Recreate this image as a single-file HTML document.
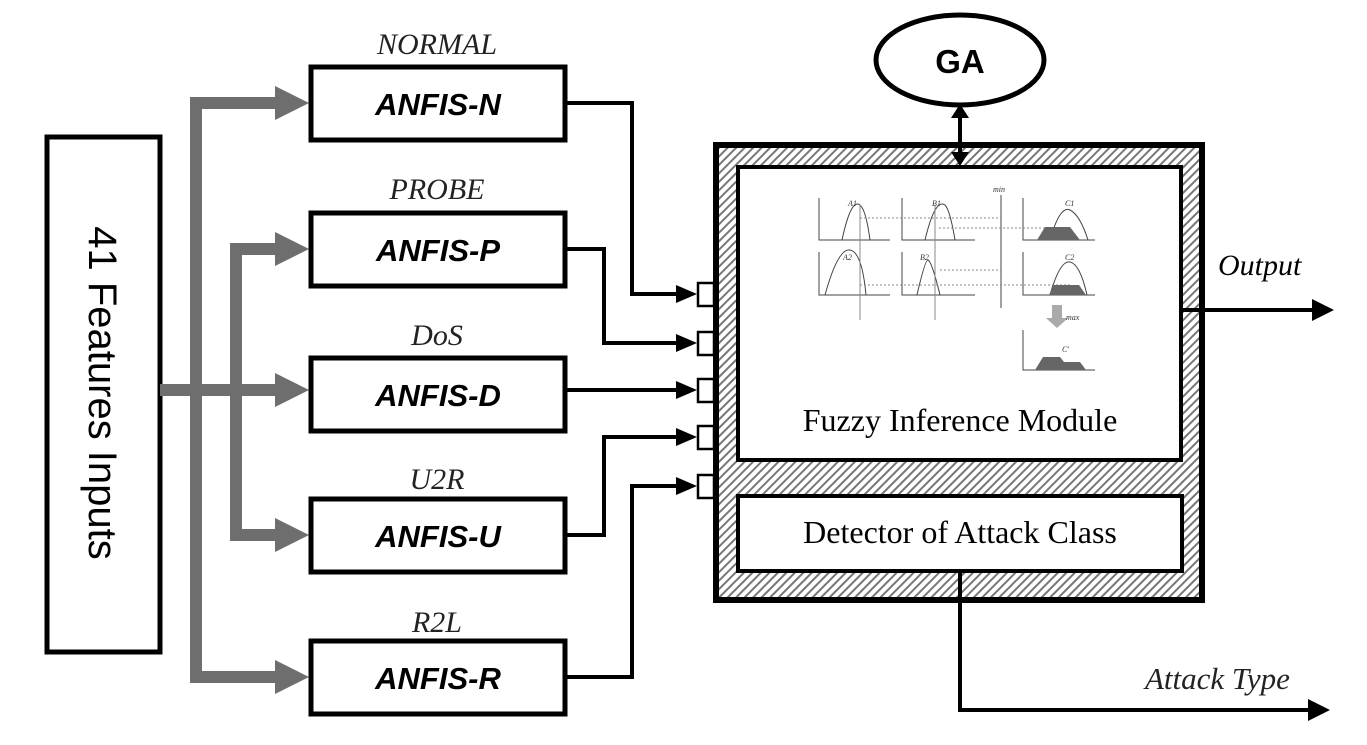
<!DOCTYPE html>
<html><head><meta charset="utf-8"><style>
html,body{margin:0;padding:0;background:#fff}
svg{display:block}
.ser{font-family:"Liberation Serif",serif}
.san{font-family:"Liberation Sans",sans-serif}
</style></head><body>
<svg width="1367" height="745" viewBox="0 0 1367 745" xmlns="http://www.w3.org/2000/svg">
<defs>
<pattern id="h" width="6" height="6" patternUnits="userSpaceOnUse" patternTransform="rotate(45)">
<rect width="6" height="6" fill="#fff"/><rect width="2" height="6" fill="#777"/>
</pattern>
</defs>
<!-- features box -->
<rect x="47" y="137" width="113" height="515" fill="#fff" stroke="#000" stroke-width="5"/>
<text class="san" font-size="40" transform="translate(89,393) rotate(90)" text-anchor="middle">41 Features Inputs</text>
<!-- gray connectors -->
<g stroke="#6e6e6e" stroke-width="12" fill="none">
<path d="M160,390 H280"/>
<path d="M280,103 H196 V677 H280"/>
<path d="M280,249 H236 V535 H280"/>
</g>
<g fill="#6e6e6e">
<path d="M275,86 L309,103 L275,120Z"/>
<path d="M275,232 L309,249 L275,266Z"/>
<path d="M275,373 L309,390 L275,407Z"/>
<path d="M275,518 L309,535 L275,552Z"/>
<path d="M275,660 L309,677 L275,694Z"/>
</g>
<!-- ANFIS boxes -->
<g fill="#fff" stroke="#000" stroke-width="5">
<rect x="311" y="67" width="254" height="73"/>
<rect x="311" y="213" width="254" height="73"/>
<rect x="311" y="358" width="254" height="73"/>
<rect x="311" y="499" width="254" height="73"/>
<rect x="311" y="641" width="254" height="73"/>
</g>
<g class="san" font-size="31" font-weight="bold" font-style="italic" text-anchor="middle">
<text x="438" y="115">ANFIS-N</text>
<text x="438" y="261">ANFIS-P</text>
<text x="438" y="406">ANFIS-D</text>
<text x="438" y="547">ANFIS-U</text>
<text x="438" y="689">ANFIS-R</text>
</g>
<g class="ser" font-size="30" font-style="italic" text-anchor="middle" fill="#222">
<text x="437" y="54">NORMAL</text>
<text x="437" y="199">PROBE</text>
<text x="437" y="345">DoS</text>
<text x="437" y="489">U2R</text>
<text x="437" y="632">R2L</text>
</g>
<!-- black connectors -->
<g stroke="#000" stroke-width="4" fill="none">
<path d="M565,103 H632 V294 H680"/>
<path d="M565,249 H604 V343 H680"/>
<path d="M565,390 H680"/>
<path d="M565,535 H604 V437 H680"/>
<path d="M565,677 H632 V486 H680"/>
</g>
<g>
<path d="M676,285 L697,294 L676,303Z"/>
<path d="M676,334 L697,343 L676,352Z"/>
<path d="M676,381 L697,390 L676,399Z"/>
<path d="M676,428 L697,437 L676,446Z"/>
<path d="M676,477 L697,486 L676,495Z"/>
</g>
<g fill="#fff" stroke="#000" stroke-width="2.5">
<rect x="698" y="283" width="16" height="23"/>
<rect x="698" y="332" width="16" height="23"/>
<rect x="698" y="379" width="16" height="23"/>
<rect x="698" y="426" width="16" height="23"/>
<rect x="698" y="475" width="16" height="23"/>
</g>
<!-- main box -->
<rect x="716" y="145" width="486" height="455" fill="url(#h)" stroke="#000" stroke-width="6"/>
<rect x="738" y="167" width="443" height="293" fill="#fff" stroke="#000" stroke-width="4"/>
<rect x="738" y="496" width="444" height="75" fill="#fff" stroke="#000" stroke-width="4"/>
<text class="ser" x="960" y="431" font-size="32" text-anchor="middle">Fuzzy Inference Module</text>
<text class="ser" x="960" y="543" font-size="32" text-anchor="middle">Detector of Attack Class</text>
<!-- fuzzy diagram -->
<g stroke="#444" stroke-width="1" fill="none">
<path d="M819,198 V240 H890 M819,252 V295 H890"/>
<path d="M902,198 V240 H975 M902,252 V295 H975"/>
<path d="M1023,198 V240 H1095 M1023,252 V295 H1095"/>
<path d="M1023,330 V370 H1095"/>
<path d="M1001,195 V308"/>
<path d="M842,240 Q851,198 860,205 Q866,210 870,240"/>
<path d="M825,295 Q838,248 850,250 Q862,252 866,295"/>
<path d="M925,240 Q935,198 945,205 Q950,210 955,240"/>
<path d="M917,295 Q925,260 928,260 Q932,262 940,295"/>
<path d="M860,218 H1001 M939,228 H1070 M940,270 H1001 M860,285 H1070" stroke-dasharray="2,2" stroke="#888"/>
<path d="M860,205 V320 M935,205 V320" stroke="#888"/>
<path d="M1050,240 Q1060,205 1070,210 Q1080,215 1088,240"/>
<path d="M1050,295 Q1060,260 1070,262 Q1080,264 1087,295"/>
</g>
<g fill="#666">
<path d="M1037,240 L1045,227 H1070 L1080,240Z"/>
<path d="M1049,295 L1054,285 H1079 L1086,295Z"/>
<path d="M1035,370 L1043,357 H1060 L1064,362 H1080 L1086,370Z"/>
<path d="M1052,305 H1062 V318 H1068 L1057,328 L1046,318 H1052Z" fill="#aaa"/>
</g>
<g class="ser" font-size="8" font-style="italic" fill="#333">
<text x="848" y="206">A1</text><text x="932" y="206">B1</text><text x="1065" y="206">C1</text>
<text x="843" y="260">A2</text><text x="920" y="260">B2</text><text x="1065" y="260">C2</text>
<text x="1062" y="352">C'</text><text x="993" y="192">min</text><text x="1066" y="320">max</text>
</g>
<!-- GA -->
<ellipse cx="960" cy="60" rx="84" ry="45" fill="#fff" stroke="#000" stroke-width="5"/>
<text class="san" x="960" y="73" font-size="33" font-weight="bold" text-anchor="middle">GA</text>
<path d="M960,110 V160" stroke="#000" stroke-width="4"/>
<path d="M951,118 L960,104 L969,118Z M951,152 L960,166 L969,152Z"/>
<!-- output -->
<path d="M1181,310 H1320" stroke="#000" stroke-width="4"/>
<path d="M1312,299 L1334,310 L1312,321Z"/>
<text class="ser" x="1218" y="275" font-size="30" font-style="italic">Output</text>
<!-- attack -->
<path d="M960,571 V710 H1315" stroke="#000" stroke-width="4" fill="none"/>
<path d="M1308,699 L1330,710 L1308,721Z"/>
<text class="ser" x="1145" y="689" font-size="31" font-style="italic" fill="#222">Attack Type</text>
</svg>
</body></html>
